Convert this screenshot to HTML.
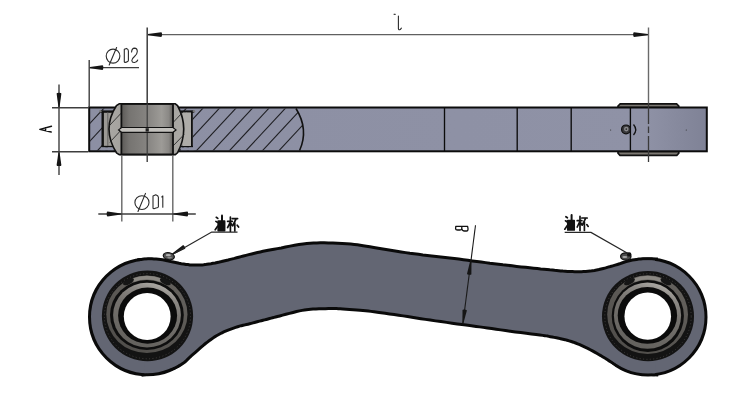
<!DOCTYPE html>
<html><head><meta charset="utf-8"><title>link</title>
<style>html,body{margin:0;padding:0;background:#fff;width:750px;height:400px;overflow:hidden;font-family:"Liberation Sans",sans-serif;} svg{display:block}</style>
</head><body>
<svg width="750" height="400" viewBox="0 0 750 400">
<defs>
 <linearGradient id="gring" x1="0.25" y1="1" x2="0.6" y2="0">
  <stop offset="0" stop-color="#62605c"/><stop offset="0.6" stop-color="#74716d"/><stop offset="0.85" stop-color="#8c8985"/><stop offset="1" stop-color="#aaa7a2"/>
 </linearGradient>
 <linearGradient id="gouter" x1="0" y1="1" x2="0.6" y2="0">
  <stop offset="0" stop-color="#4d4b48"/><stop offset="1" stop-color="#63605c"/>
 </linearGradient>
 <linearGradient id="gbody1" x1="0" y1="0" x2="1" y2="0">
  <stop offset="0" stop-color="#8c8fa3"/><stop offset="0.9" stop-color="#8f92a6"/><stop offset="1" stop-color="#7f8296"/>
 </linearGradient>
 <linearGradient id="gball" x1="0" y1="0" x2="1" y2="0">
  <stop offset="0" stop-color="#a9a7a3"/><stop offset="0.5" stop-color="#9a9894"/><stop offset="1" stop-color="#acaaa6"/>
 </linearGradient>
 <linearGradient id="gbore" x1="0" y1="0" x2="1" y2="0">
  <stop offset="0" stop-color="#5c5a57"/><stop offset="0.15" stop-color="#767471"/><stop offset="0.5" stop-color="#868481"/><stop offset="0.78" stop-color="#9d9b97"/><stop offset="0.92" stop-color="#8a8885"/><stop offset="1" stop-color="#5e5c59"/>
 </linearGradient>
 <clipPath id="hclip"><path d="M90,108.5 L296,108.5 Q309,129.5 299.6,150.5 L90,150.5 Z"/></clipPath>
</defs>
<rect width="750" height="400" fill="#fff"/>

<!-- ======= TOP VIEW ======= -->
<!-- flanges right bushing -->
<path d="M618,107.5 L618,106 L620.2,103.8 L676.6,103.8 L678.8,106 L678.8,107.5 Z" fill="#7c7872" stroke="#111" stroke-width="1.7"/>
<path d="M618,151.3 L618,153.2 L620,155.4 L676.8,155.4 L678.8,153.2 L678.8,151.3 Z" fill="#7c7872" stroke="#111" stroke-width="1.7"/>
<!-- main bar -->
<rect x="89.2" y="107.5" width="617.6" height="43.8" fill="url(#gbody1)" stroke="#0c0c0c" stroke-width="2"/>
<!-- hatch -->
<g clip-path="url(#hclip)" stroke="#1e1e22" stroke-width="1.1">
<line x1="88.1" y1="107.5" x2="47.2" y2="151.5"/>
<line x1="104.6" y1="107.5" x2="63.7" y2="151.5"/>
<line x1="121.1" y1="107.5" x2="80.2" y2="151.5"/>
<line x1="137.6" y1="107.5" x2="96.7" y2="151.5"/>
<line x1="154.1" y1="107.5" x2="113.2" y2="151.5"/>
<line x1="170.6" y1="107.5" x2="129.7" y2="151.5"/>
<line x1="187.1" y1="107.5" x2="146.2" y2="151.5"/>
<line x1="203.6" y1="107.5" x2="162.7" y2="151.5"/>
<line x1="220.1" y1="107.5" x2="179.2" y2="151.5"/>
<line x1="236.6" y1="107.5" x2="195.7" y2="151.5"/>
<line x1="253.1" y1="107.5" x2="212.2" y2="151.5"/>
<line x1="269.6" y1="107.5" x2="228.7" y2="151.5"/>
<line x1="286.1" y1="107.5" x2="245.2" y2="151.5"/>
<line x1="302.6" y1="107.5" x2="261.7" y2="151.5"/>
<line x1="319.1" y1="107.5" x2="278.2" y2="151.5"/>
</g>
<path d="M296,108.5 Q309,129.5 299.6,150.5" fill="none" stroke="#111" stroke-width="1.6"/>
<!-- segment lines -->
<g stroke="#0c0c0c" stroke-width="1.35">
<line x1="444.5" y1="107.5" x2="444.5" y2="151.3"/>
<line x1="517.2" y1="107.5" x2="517.2" y2="151.3"/>
<line x1="571.2" y1="107.5" x2="571.2" y2="151.3"/>
<line x1="630.4" y1="107.5" x2="630.4" y2="151.3"/>
</g>
<!-- grease nipple side -->
<circle cx="626" cy="129.4" r="4.4" fill="#3a3a3c" stroke="#0d0d0d" stroke-width="1.2"/>
<circle cx="626.3" cy="129.1" r="2.3" fill="#8a8a8d"/>
<circle cx="626.3" cy="129.1" r="0.9" fill="#2a2a2a"/>
<path d="M633.5,124.5 Q638,129.8 633.5,135" fill="none" stroke="#111" stroke-width="1.3"/>
<circle cx="610.6" cy="130" r="0.6" fill="#333"/>
<circle cx="686.3" cy="130" r="0.6" fill="#333"/>
<!-- left bearing: outer race -->
<rect x="102" y="111" width="90.5" height="36" fill="#9b9995"/>
<g stroke="#111" fill="none">
<path d="M102.7,110.8 L102.7,146.4" stroke-width="2.4"/>
<path d="M191.6,110.8 L191.6,146.4" stroke-width="2.4"/>
<path d="M100.2,111.6 L113.5,111.6" stroke-width="2.4"/>
<path d="M180.8,111.6 L194.2,111.6" stroke-width="2.4"/>
<path d="M101.5,146.6 L114,146.6" stroke-width="1.5"/>
<path d="M180.5,146.6 L193,146.6" stroke-width="1.5"/>
<path d="M107.8,112 L107.8,146" stroke-width="0.8" stroke="#555"/>
<path d="M186.6,112 L186.6,146" stroke-width="0.8" stroke="#555"/>
</g>
<rect x="100.8" y="147.5" width="4.6" height="2.6" fill="#8e91a4"/>
<rect x="107.8" y="147.5" width="5.6" height="2.6" fill="#8e91a4"/>
<rect x="181" y="147.5" width="5.6" height="2.6" fill="#8e91a4"/>
<rect x="189" y="147.5" width="4.6" height="2.6" fill="#8e91a4"/>
<circle cx="100.4" cy="111.2" r="1.2" fill="#777"/>
<circle cx="194" cy="111.2" r="1.2" fill="#777"/>
<!-- ball -->
<rect x="183" y="112.5" width="8" height="33.5" fill="#aeaca8"/>
<path d="M119.3,103.8 L175.3,103.8 L177.5,105.5 Q190,129 177.5,152.8 L175.3,154.6 L119.3,154.6 L116.5,152.8 Q101.5,129 116.5,105.5 Z" fill="url(#gball)" stroke="#111" stroke-width="1.6"/>
<g stroke="#2a2a2a" stroke-width="0.9">
<line x1="121" y1="113.3" x2="109.6" y2="125.4"/>
<line x1="121" y1="130.2" x2="109.8" y2="142.3"/>
<line x1="173" y1="122.6" x2="181.5" y2="113.5"/>
<line x1="173" y1="146" x2="184" y2="134.6"/>
</g>
<!-- bore -->
<rect x="121.4" y="104" width="51.6" height="50.4" fill="url(#gbore)" stroke="#111" stroke-width="1.8"/>
<path d="M147.2,104 L147.2,155" stroke="#3c3c3c" stroke-width="1.2"/>
<path d="M118.6,129.9 L121.6,127.5 L173,127.5 L176,129.9 L173,132.3 L121.6,132.3 Z" fill="#c2c0bc" stroke="#111" stroke-width="1.2"/>
<rect x="145.6" y="128.2" width="3.2" height="3.4" fill="#222"/>
<!-- dimension lines top view -->
<g stroke="#3e3e3e" stroke-width="1.4" fill="none">
<line x1="147.2" y1="27.5" x2="147.2" y2="103.5" stroke="#3c3c3c" stroke-width="1.5"/>
<line x1="147.2" y1="155" x2="147.2" y2="162"/>
<line x1="648.5" y1="27.5" x2="648.5" y2="103.5" stroke="#6a6a6a"/>
<line x1="147.5" y1="34.6" x2="648" y2="34.6" stroke="#606060" stroke-width="1.3"/>
<line x1="89.2" y1="60" x2="89.2" y2="107"/>
<line x1="89.5" y1="67.6" x2="139" y2="67.6"/>
<line x1="52" y1="107.7" x2="88" y2="107.7"/>
<line x1="52" y1="151.7" x2="88" y2="151.7"/>
<line x1="59.0" y1="84.5" x2="59.0" y2="175"/>
<line x1="121.8" y1="155" x2="121.8" y2="221.5" stroke="#666"/>
<line x1="172.8" y1="155" x2="172.8" y2="221.5" stroke="#666"/>
<line x1="98.3" y1="214" x2="195.8" y2="214"/>
</g>
<path d="M648.5,104 L648.5,124 M648.5,126.5 L648.5,133 M648.5,136 L648.5,162" stroke="#3a3a3a" stroke-width="1.3" fill="none"/>
<g fill="#151515">
<path d="M147.80,35.20 L161.20,37.00 Q162.04,37.00 162.04,34.60 Q162.04,32.20 161.20,32.20 L147.80,34.00 Z"/>
<path d="M647.90,34.00 L634.00,32.20 Q633.16,32.20 633.16,34.60 Q633.16,37.00 634.00,37.00 L647.90,35.20 Z"/>
<path d="M89.90,68.20 L102.50,70.00 Q103.34,70.00 103.34,67.60 Q103.34,65.20 102.50,65.20 L89.90,67.00 Z"/>
<path d="M59.60,107.00 L61.40,93.50 Q61.40,92.66 59.00,92.66 Q56.60,92.66 56.60,93.50 L58.40,107.00 Z"/>
<path d="M58.40,152.40 L56.60,165.20 Q56.60,166.04 59.00,166.04 Q61.40,166.04 61.40,165.20 L59.60,152.40 Z"/>
<path d="M121.20,213.40 L107.50,211.60 Q106.66,211.60 106.66,214.00 Q106.66,216.40 107.50,216.40 L121.20,214.60 Z"/>
<path d="M173.40,214.60 L187.30,216.40 Q188.14,216.40 188.14,214.00 Q188.14,211.60 187.30,211.60 L173.40,213.40 Z"/>
</g>
<!-- texts top view -->
<g stroke="#2a2a2a" stroke-width="1.1" fill="none" stroke-linecap="round" stroke-linejoin="round">
<!-- l -->
<path d="M394,14.2 L395.2,14.4 M398.4,16 L398.4,28.6 Q398.7,30.2 400.2,29.6 L401.4,28.2"/>
<!-- phi D2 -->
<ellipse cx="113.05" cy="56.1" rx="6.85" ry="7"/>
<path d="M116.6,47.5 L109.2,65"/>
<path d="M124.3,49.3 L126.6,48.4 Q128.4,49.2 128.4,51 L128.4,60.5 Q128.4,61.6 126.4,62.1 L125,62.5 L124.3,61.8 Z"/>
<path d="M131.6,52 Q131.8,48.2 134.5,48.1 Q137.3,48.2 137.3,51.5 Q137.3,54 134.5,56.5 Q131.8,58.8 131.8,60.5 Q132,62.7 134.5,62.5 Q137,62.3 137.7,60"/>
<!-- phi D1 -->
<ellipse cx="141.95" cy="202.6" rx="7.05" ry="6.9"/>
<path d="M145.5,193.4 L138,211.5"/>
<path d="M153,196 L155.8,194.7 Q158.4,195.6 158.4,197.2 L158.4,206.8 Q158.2,207.6 156,208 L154,208.7 L153,208.2 Z"/>
<path d="M161.8,197 L162.8,196 L162.8,207.2"/>
<!-- A rotated -->
<path d="M51.5,126.3 L39.8,129.4 L51.2,132 M45.6,127.8 L45.6,130.9" stroke-width="1.4" stroke="#111"/>
<!-- B rotated -->
<path d="M455.8,226.3 L467.6,226.3 M455.8,226.3 L455.6,228.8 Q455.8,230 457.5,230 L460,230 Q461.8,230 461.8,228.5 L461.8,226.3 M461.8,228.5 Q462,231 464.5,231 L466.5,231 Q468.2,231 468,228.5 L467.6,226.3" stroke-width="1.3" stroke="#111"/>
</g>

<!-- ======= BOTTOM VIEW ======= -->
<g fill="#0a0a0a" stroke="#0a0a0a" stroke-width="6.0">
<circle cx="147.3" cy="317.0" r="56.3"/>
<circle cx="648.0" cy="317.0" r="56.5"/>
<path d="M140.3,261.0 141.5,260.9 142.9,260.7 144.5,260.5 146.3,260.4 148.2,260.3 150.0,260.2 151.9,260.3 153.9,260.4 156.0,260.5 158.2,260.7 160.3,261.0 162.5,261.3 164.7,261.7 167.0,262.2 169.3,262.7 171.7,263.3 174.1,263.8 176.4,264.3 178.8,264.8 181.1,265.2 183.5,265.5 185.7,265.9 187.8,266.1 189.6,266.4 191.2,266.5 192.5,266.6 193.7,266.6 194.9,266.6 195.9,266.6 197.1,266.6 198.3,266.6 199.6,266.5 200.9,266.5 202.3,266.4 203.8,266.3 205.4,266.1 207.2,265.8 209.2,265.5 211.2,265.2 213.3,264.8 215.5,264.4 217.6,263.9 219.8,263.5 222.0,263.0 224.1,262.4 226.3,261.9 228.5,261.4 230.7,260.8 232.8,260.3 234.9,259.8 237.0,259.2 239.1,258.7 241.4,258.1 243.8,257.5 246.4,256.8 249.1,256.1 252.0,255.4 254.9,254.7 257.8,254.0 260.6,253.4 263.3,252.8 265.9,252.3 268.5,251.8 271.3,251.3 274.3,250.7 277.7,250.1 281.6,249.4 285.8,248.5 290.3,247.6 294.9,246.8 299.2,246.0 303.3,245.4 307.0,245.0 310.3,244.7 313.6,244.5 316.9,244.4 320.3,244.3 324.1,244.3 328.3,244.4 332.8,244.5 337.5,244.7 342.1,245.0 346.6,245.3 350.6,245.6 354.1,245.9 357.2,246.3 360.0,246.7 362.9,247.2 366.1,247.7 369.6,248.3 373.6,248.9 378.0,249.7 382.6,250.5 387.3,251.3 391.9,252.0 396.5,252.7 400.9,253.4 405.3,254.1 409.6,254.7 413.9,255.2 418.3,255.8 422.7,256.4 427.1,256.9 431.6,257.4 436.1,257.9 440.6,258.4 445.1,258.9 449.6,259.4 454.1,260.0 458.6,260.5 463.2,261.2 467.7,261.8 472.1,262.4 476.6,263.0 481.0,263.5 485.3,264.1 489.6,264.7 493.9,265.2 498.3,265.7 502.7,266.3 507.2,266.8 511.9,267.3 516.5,267.9 521.1,268.4 525.5,268.8 529.6,269.3 533.5,269.7 537.1,270.0 540.5,270.4 543.8,270.7 546.8,271.0 549.6,271.3 552.2,271.5 554.4,271.8 556.5,272.0 558.6,272.2 560.6,272.4 562.8,272.6 565.1,272.7 567.5,272.9 569.9,273.0 572.3,273.1 574.6,273.2 577.0,273.2 579.2,273.2 581.5,273.2 583.7,273.1 585.9,273.0 588.1,272.8 590.4,272.6 592.6,272.2 594.8,271.9 597.0,271.4 599.3,271.0 601.5,270.4 603.7,269.9 606.1,269.3 608.4,268.6 610.8,268.0 613.2,267.3 615.6,266.6 617.9,265.9 620.1,265.2 622.3,264.4 624.5,263.7 626.6,263.0 628.6,262.5 630.7,262.0 632.7,261.5 634.8,261.2 636.9,260.9 639.0,260.6 641.1,260.5 643.2,260.3 645.3,260.2 647.5,260.2 649.7,260.2 651.8,260.3 653.5,260.4 654.9,260.4 L655.2,373.3 653.5,373.2 651.3,373.1 648.8,372.9 646.2,372.8 643.7,372.6 641.4,372.3 639.4,372.1 637.6,371.8 635.8,371.5 634.2,371.1 632.5,370.7 630.9,370.2 629.3,369.7 627.7,369.1 626.2,368.4 624.6,367.6 623.0,366.8 621.4,366.0 619.7,365.2 618.1,364.3 616.5,363.4 614.8,362.5 613.2,361.5 611.5,360.5 609.9,359.6 608.4,358.6 606.8,357.5 605.1,356.5 603.3,355.4 601.5,354.3 599.5,353.2 597.5,352.0 595.4,350.8 593.2,349.6 591.0,348.4 588.9,347.3 586.7,346.3 584.6,345.3 582.5,344.3 580.4,343.3 578.2,342.4 576.1,341.6 573.9,340.8 571.8,340.1 569.6,339.4 567.5,338.8 565.4,338.2 563.2,337.7 561.0,337.2 558.9,336.7 556.7,336.3 554.5,335.9 552.5,335.5 550.6,335.2 549.1,334.9 547.8,334.6 546.5,334.4 545.0,334.2 543.0,333.9 540.1,333.5 536.3,333.0 531.6,332.4 526.4,331.8 520.9,331.1 515.5,330.4 510.5,329.7 505.7,329.1 501.0,328.4 496.4,327.8 491.9,327.1 487.6,326.5 483.5,325.9 479.8,325.4 476.4,325.0 473.2,324.5 469.9,324.1 466.3,323.6 462.2,323.0 457.5,322.4 452.3,321.7 446.8,320.9 441.1,320.1 435.7,319.4 430.5,318.6 425.7,317.9 421.1,317.2 416.6,316.5 412.2,315.8 407.8,315.1 403.4,314.4 398.9,313.8 394.4,313.1 389.8,312.5 385.4,311.8 381.3,311.3 377.5,310.7 374.2,310.3 371.2,309.9 368.5,309.6 365.9,309.3 363.1,309.0 360.2,308.7 356.9,308.4 353.3,308.2 349.7,307.9 346.2,307.7 343.0,307.5 340.3,307.3 338.3,307.2 336.7,307.1 335.4,307.1 334.2,307.1 332.7,307.1 330.8,307.1 328.3,307.1 325.4,307.2 322.2,307.2 318.9,307.3 315.8,307.5 312.9,307.6 310.5,307.8 308.3,308.0 306.2,308.2 304.2,308.5 301.9,308.9 299.2,309.4 296.2,310.1 292.7,311.0 289.1,311.9 285.5,312.8 282.2,313.7 279.4,314.5 277.1,315.0 275.2,315.5 273.7,315.9 272.2,316.3 270.8,316.7 269.2,317.1 267.6,317.5 265.9,318.0 264.2,318.4 262.6,318.8 260.9,319.3 259.2,319.7 257.6,320.1 255.9,320.6 254.2,321.0 252.6,321.4 250.9,321.9 249.3,322.3 247.7,322.7 246.1,323.0 244.5,323.4 242.8,323.8 241.0,324.2 239.1,324.7 237.2,325.3 235.1,326.0 233.1,326.7 231.0,327.4 228.9,328.2 226.9,329.0 225.0,329.8 223.1,330.6 221.3,331.5 219.4,332.4 217.6,333.4 215.7,334.5 213.9,335.6 211.9,336.9 210.1,338.2 208.2,339.6 206.5,340.9 204.9,342.1 203.4,343.3 202.1,344.4 200.8,345.5 199.6,346.6 198.5,347.6 197.2,348.8 195.8,350.0 194.4,351.2 192.9,352.5 191.4,353.8 190.0,355.0 188.7,356.2 187.6,357.3 186.6,358.2 185.8,359.1 185.0,359.9 184.2,360.6 183.2,361.4 181.9,362.3 180.5,363.2 179.0,364.1 177.4,365.0 175.7,365.9 173.9,366.7 171.8,367.4 169.5,368.1 167.0,368.8 164.5,369.5 161.9,370.1 159.3,370.7 156.7,371.2 153.9,371.7 151.1,372.2 148.5,372.7 146.3,373.0 144.5,373.3 Z"/>
</g>
<g fill="#636673">
<circle cx="147.3" cy="317.0" r="56.3"/>
<circle cx="648.0" cy="317.0" r="56.5"/>
<path d="M140.3,261.0 141.5,260.9 142.9,260.7 144.5,260.5 146.3,260.4 148.2,260.3 150.0,260.2 151.9,260.3 153.9,260.4 156.0,260.5 158.2,260.7 160.3,261.0 162.5,261.3 164.7,261.7 167.0,262.2 169.3,262.7 171.7,263.3 174.1,263.8 176.4,264.3 178.8,264.8 181.1,265.2 183.5,265.5 185.7,265.9 187.8,266.1 189.6,266.4 191.2,266.5 192.5,266.6 193.7,266.6 194.9,266.6 195.9,266.6 197.1,266.6 198.3,266.6 199.6,266.5 200.9,266.5 202.3,266.4 203.8,266.3 205.4,266.1 207.2,265.8 209.2,265.5 211.2,265.2 213.3,264.8 215.5,264.4 217.6,263.9 219.8,263.5 222.0,263.0 224.1,262.4 226.3,261.9 228.5,261.4 230.7,260.8 232.8,260.3 234.9,259.8 237.0,259.2 239.1,258.7 241.4,258.1 243.8,257.5 246.4,256.8 249.1,256.1 252.0,255.4 254.9,254.7 257.8,254.0 260.6,253.4 263.3,252.8 265.9,252.3 268.5,251.8 271.3,251.3 274.3,250.7 277.7,250.1 281.6,249.4 285.8,248.5 290.3,247.6 294.9,246.8 299.2,246.0 303.3,245.4 307.0,245.0 310.3,244.7 313.6,244.5 316.9,244.4 320.3,244.3 324.1,244.3 328.3,244.4 332.8,244.5 337.5,244.7 342.1,245.0 346.6,245.3 350.6,245.6 354.1,245.9 357.2,246.3 360.0,246.7 362.9,247.2 366.1,247.7 369.6,248.3 373.6,248.9 378.0,249.7 382.6,250.5 387.3,251.3 391.9,252.0 396.5,252.7 400.9,253.4 405.3,254.1 409.6,254.7 413.9,255.2 418.3,255.8 422.7,256.4 427.1,256.9 431.6,257.4 436.1,257.9 440.6,258.4 445.1,258.9 449.6,259.4 454.1,260.0 458.6,260.5 463.2,261.2 467.7,261.8 472.1,262.4 476.6,263.0 481.0,263.5 485.3,264.1 489.6,264.7 493.9,265.2 498.3,265.7 502.7,266.3 507.2,266.8 511.9,267.3 516.5,267.9 521.1,268.4 525.5,268.8 529.6,269.3 533.5,269.7 537.1,270.0 540.5,270.4 543.8,270.7 546.8,271.0 549.6,271.3 552.2,271.5 554.4,271.8 556.5,272.0 558.6,272.2 560.6,272.4 562.8,272.6 565.1,272.7 567.5,272.9 569.9,273.0 572.3,273.1 574.6,273.2 577.0,273.2 579.2,273.2 581.5,273.2 583.7,273.1 585.9,273.0 588.1,272.8 590.4,272.6 592.6,272.2 594.8,271.9 597.0,271.4 599.3,271.0 601.5,270.4 603.7,269.9 606.1,269.3 608.4,268.6 610.8,268.0 613.2,267.3 615.6,266.6 617.9,265.9 620.1,265.2 622.3,264.4 624.5,263.7 626.6,263.0 628.6,262.5 630.7,262.0 632.7,261.5 634.8,261.2 636.9,260.9 639.0,260.6 641.1,260.5 643.2,260.3 645.3,260.2 647.5,260.2 649.7,260.2 651.8,260.3 653.5,260.4 654.9,260.4 L655.2,373.3 653.5,373.2 651.3,373.1 648.8,372.9 646.2,372.8 643.7,372.6 641.4,372.3 639.4,372.1 637.6,371.8 635.8,371.5 634.2,371.1 632.5,370.7 630.9,370.2 629.3,369.7 627.7,369.1 626.2,368.4 624.6,367.6 623.0,366.8 621.4,366.0 619.7,365.2 618.1,364.3 616.5,363.4 614.8,362.5 613.2,361.5 611.5,360.5 609.9,359.6 608.4,358.6 606.8,357.5 605.1,356.5 603.3,355.4 601.5,354.3 599.5,353.2 597.5,352.0 595.4,350.8 593.2,349.6 591.0,348.4 588.9,347.3 586.7,346.3 584.6,345.3 582.5,344.3 580.4,343.3 578.2,342.4 576.1,341.6 573.9,340.8 571.8,340.1 569.6,339.4 567.5,338.8 565.4,338.2 563.2,337.7 561.0,337.2 558.9,336.7 556.7,336.3 554.5,335.9 552.5,335.5 550.6,335.2 549.1,334.9 547.8,334.6 546.5,334.4 545.0,334.2 543.0,333.9 540.1,333.5 536.3,333.0 531.6,332.4 526.4,331.8 520.9,331.1 515.5,330.4 510.5,329.7 505.7,329.1 501.0,328.4 496.4,327.8 491.9,327.1 487.6,326.5 483.5,325.9 479.8,325.4 476.4,325.0 473.2,324.5 469.9,324.1 466.3,323.6 462.2,323.0 457.5,322.4 452.3,321.7 446.8,320.9 441.1,320.1 435.7,319.4 430.5,318.6 425.7,317.9 421.1,317.2 416.6,316.5 412.2,315.8 407.8,315.1 403.4,314.4 398.9,313.8 394.4,313.1 389.8,312.5 385.4,311.8 381.3,311.3 377.5,310.7 374.2,310.3 371.2,309.9 368.5,309.6 365.9,309.3 363.1,309.0 360.2,308.7 356.9,308.4 353.3,308.2 349.7,307.9 346.2,307.7 343.0,307.5 340.3,307.3 338.3,307.2 336.7,307.1 335.4,307.1 334.2,307.1 332.7,307.1 330.8,307.1 328.3,307.1 325.4,307.2 322.2,307.2 318.9,307.3 315.8,307.5 312.9,307.6 310.5,307.8 308.3,308.0 306.2,308.2 304.2,308.5 301.9,308.9 299.2,309.4 296.2,310.1 292.7,311.0 289.1,311.9 285.5,312.8 282.2,313.7 279.4,314.5 277.1,315.0 275.2,315.5 273.7,315.9 272.2,316.3 270.8,316.7 269.2,317.1 267.6,317.5 265.9,318.0 264.2,318.4 262.6,318.8 260.9,319.3 259.2,319.7 257.6,320.1 255.9,320.6 254.2,321.0 252.6,321.4 250.9,321.9 249.3,322.3 247.7,322.7 246.1,323.0 244.5,323.4 242.8,323.8 241.0,324.2 239.1,324.7 237.2,325.3 235.1,326.0 233.1,326.7 231.0,327.4 228.9,328.2 226.9,329.0 225.0,329.8 223.1,330.6 221.3,331.5 219.4,332.4 217.6,333.4 215.7,334.5 213.9,335.6 211.9,336.9 210.1,338.2 208.2,339.6 206.5,340.9 204.9,342.1 203.4,343.3 202.1,344.4 200.8,345.5 199.6,346.6 198.5,347.6 197.2,348.8 195.8,350.0 194.4,351.2 192.9,352.5 191.4,353.8 190.0,355.0 188.7,356.2 187.6,357.3 186.6,358.2 185.8,359.1 185.0,359.9 184.2,360.6 183.2,361.4 181.9,362.3 180.5,363.2 179.0,364.1 177.4,365.0 175.7,365.9 173.9,366.7 171.8,367.4 169.5,368.1 167.0,368.8 164.5,369.5 161.9,370.1 159.3,370.7 156.7,371.2 153.9,371.7 151.1,372.2 148.5,372.7 146.3,373.0 144.5,373.3 Z"/>
</g>
<ellipse cx="147.5" cy="315.9" rx="45.6" ry="45.3" fill="#131313"/>
<ellipse cx="147.5" cy="316.2" rx="43.1" ry="42.6" fill="none" stroke="#4a4846" stroke-width="0.8" stroke-dasharray="1 2.4"/>
<ellipse cx="146.9" cy="314.3" rx="40.6" ry="38.7" fill="url(#gouter)"/>
<ellipse cx="146.9" cy="315.0" rx="36.9" ry="35.0" fill="#0e0e0e"/>
<ellipse cx="147.0" cy="315.1" rx="33.9" ry="32.4" fill="url(#gring)"/>
<ellipse cx="147.6" cy="315.6" rx="29.5" ry="28.1" fill="#0b0b0b"/>
<ellipse cx="147.2" cy="316.5" rx="23.4" ry="23.5" fill="#ffffff"/>
<path d="M133.0,280.2 A38.8,36.9 0 0 1 160.8,280.2" fill="none" stroke="#8b8883" stroke-width="3.6"/>
<ellipse cx="128.5" cy="281.7" rx="6" ry="2.6" transform="rotate(-28 128.5 281.7)" fill="#161616"/>
<ellipse cx="165.3" cy="281.7" rx="6" ry="2.6" transform="rotate(28 165.3 281.7)" fill="#161616"/>
<ellipse cx="648.0" cy="316.2" rx="46.0" ry="45.1" fill="#131313"/>
<ellipse cx="648.0" cy="316.5" rx="43.2" ry="42.8" fill="none" stroke="#4a4846" stroke-width="0.8" stroke-dasharray="1 2.4"/>
<ellipse cx="647.6" cy="314.6" rx="40.4" ry="39.3" fill="url(#gouter)"/>
<ellipse cx="647.8" cy="316.0" rx="36.1" ry="36.0" fill="#0e0e0e"/>
<ellipse cx="647.5" cy="315.6" rx="33.6" ry="33.1" fill="url(#gring)"/>
<ellipse cx="647.4" cy="315.4" rx="29.7" ry="28.4" fill="#0b0b0b"/>
<ellipse cx="647.75" cy="316.15" rx="23.3" ry="23.6" fill="#ffffff"/>
<path d="M634.0,280.2 A38.2,37.6 0 0 1 661.4,280.2" fill="none" stroke="#8b8883" stroke-width="3.6"/>
<ellipse cx="629.5" cy="281.6" rx="6" ry="2.6" transform="rotate(-28 629.5 281.6)" fill="#161616"/>
<ellipse cx="665.9" cy="281.6" rx="6" ry="2.6" transform="rotate(28 665.9 281.6)" fill="#161616"/>

<!-- B dimension -->
<line x1="475.5" y1="225.3" x2="462.9" y2="323.5" stroke="#1a1a1a" stroke-width="1.1"/>

<g fill="#151515">
<path d="M470.50,259.74 L467.02,273.72 Q466.92,274.49 469.10,274.76 Q471.29,275.04 471.38,274.28 L471.50,259.86 Z"/>
<path d="M463.40,323.37 L466.88,310.60 Q466.98,309.84 464.81,309.54 Q462.63,309.24 462.52,310.00 L462.40,323.23 Z"/>
<path d="M171.82,255.31 L185.16,248.87 Q185.82,248.46 184.65,246.59 Q183.49,244.73 182.84,245.13 L171.18,254.29 Z"/>
</g>
<!-- grease nipples -->
<ellipse cx="168.8" cy="256.2" rx="5.6" ry="3.5" transform="rotate(12 168.8 256.2)" fill="#555" stroke="#111" stroke-width="1.2"/>
<ellipse cx="168.3" cy="255.2" rx="2.6" ry="1.1" fill="#b0b0b0"/>
<ellipse cx="169.6" cy="257.6" rx="2.4" ry="0.8" fill="#8a8a8a"/>
<ellipse cx="625.8" cy="256.4" rx="5.2" ry="3.6" fill="#4a4a4a" stroke="#111" stroke-width="1.2"/>
<circle cx="629.2" cy="254.4" r="2.2" fill="#111"/>
<ellipse cx="624.8" cy="257" rx="2.5" ry="1.1" fill="#a8a8a8"/>
<!-- leaders -->
<g stroke="#262626" stroke-width="1.25" fill="none">
<path d="M175,253 L211.7,232 L237.5,232"/>
<path d="M628,253.5 L591,232.4 L564.7,232.4"/>
</g>
<!-- 油杯 glyphs -->
<g id="yb1" fill="#111" stroke="#111" stroke-width="1.7" stroke-linecap="round" stroke-linejoin="round">
<path d="M216.3,217.3 L217.8,218.4 M215.9,221.4 L217.4,222.4 M215.2,229.8 L217.6,226.2" fill="none"/>
<path d="M218.2,221.2 L224.6,221.2 L224.6,230.6 L218.2,230.6 Z"/>
<path d="M222,215.6 L222,221.5" fill="none" stroke-width="2"/>
<path d="M227.6,221.3 L232.3,221.3 M230.4,217 L230.4,231.2 M230.2,222.3 L227.6,227.6 M230.8,223.2 L232.2,225.2" fill="none"/>
<path d="M232.2,218.6 L237.6,218.6 M236,219 L232.6,225.8 M234.8,222.5 L234.8,231 M237.2,225.2 L238.6,227" fill="none"/>
</g>
<g transform="translate(349.6,-0.6)" fill="#111" stroke="#111" stroke-width="1.7" stroke-linecap="round" stroke-linejoin="round">
<path d="M216.3,217.3 L217.8,218.4 M215.9,221.4 L217.4,222.4 M215.2,229.8 L217.6,226.2" fill="none"/>
<path d="M218.2,221.2 L224.6,221.2 L224.6,230.6 L218.2,230.6 Z"/>
<path d="M222,215.6 L222,221.5" fill="none" stroke-width="2"/>
<path d="M227.6,221.3 L232.3,221.3 M230.4,217 L230.4,231.2 M230.2,222.3 L227.6,227.6 M230.8,223.2 L232.2,225.2" fill="none"/>
<path d="M232.2,218.6 L237.6,218.6 M236,219 L232.6,225.8 M234.8,222.5 L234.8,231 M237.2,225.2 L238.6,227" fill="none"/>
</g>
</svg>
</body></html>
